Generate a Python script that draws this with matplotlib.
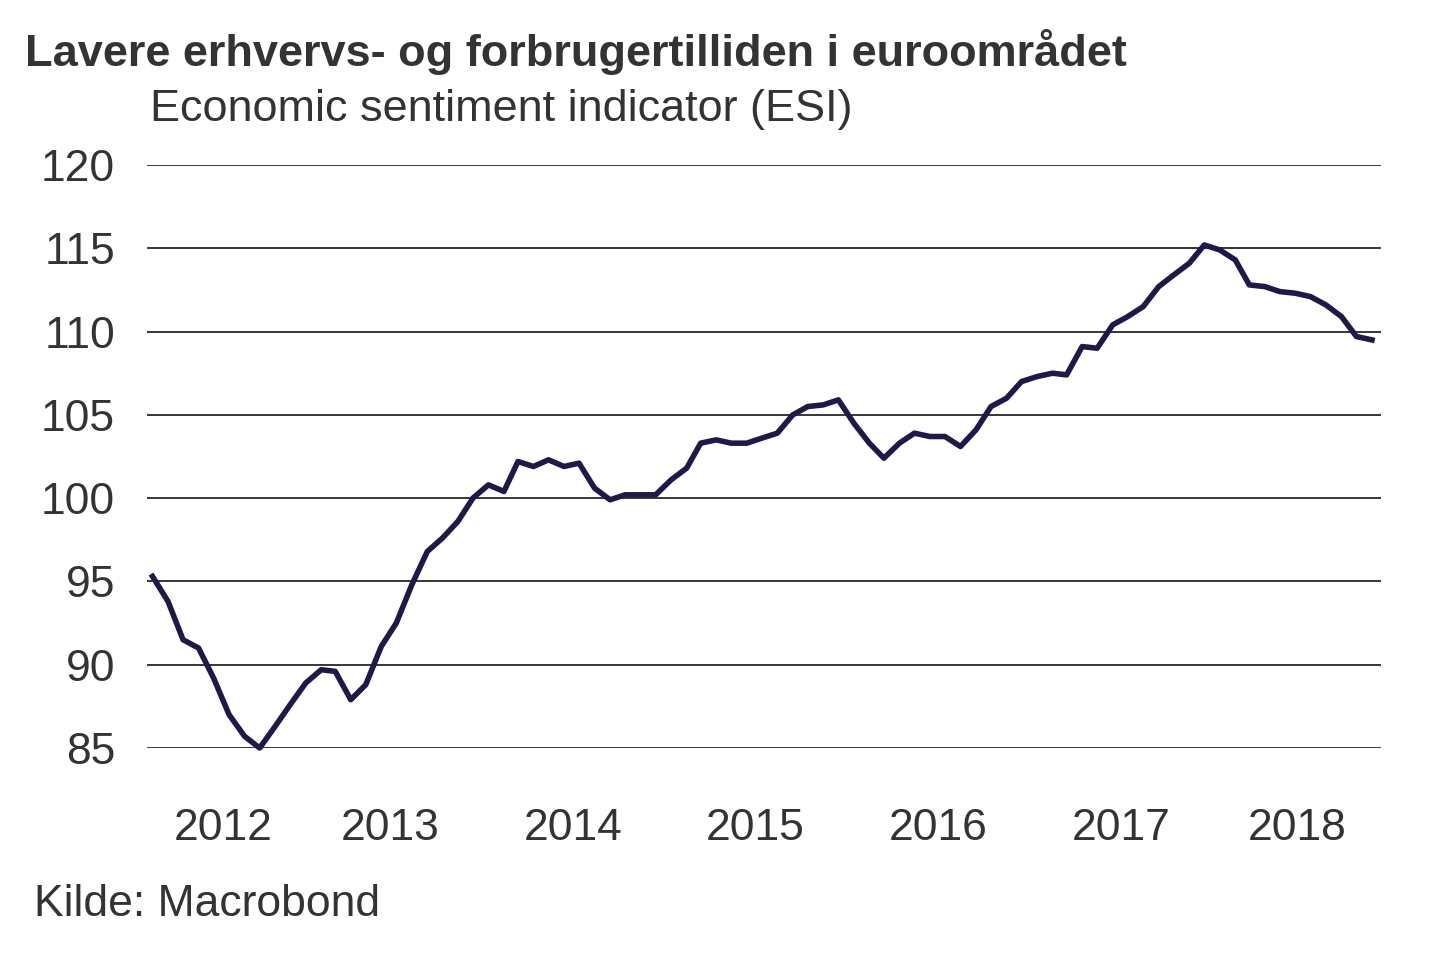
import numpy as np
import pandas as pd
import matplotlib
matplotlib.use("Agg")
import matplotlib.pyplot as plt
import matplotlib.dates as mdates

plt.rcParams['font.family'] = ['Liberation Sans', 'DejaVu Sans']

# ESI, monthly, Mar 2012 - Nov 2018
esi = [95.3, 93.8, 91.5, 91.0, 89.2, 87.0, 85.7, 85.0, 86.3, 87.6,
       88.9, 89.7, 89.6, 87.9, 88.8, 91.1, 92.5, 94.8, 96.8, 97.6,
       98.6, 100.0, 100.8, 100.4, 102.2, 101.9, 102.3, 101.9, 102.1, 100.6,
       99.9, 100.2, 100.2, 100.2, 101.1, 101.8, 103.3, 103.5, 103.3, 103.3,
       103.6, 103.9, 105.0, 105.5, 105.6, 105.9, 104.5, 103.3, 102.4, 103.3,
       103.9, 103.7, 103.7, 103.1, 104.1, 105.5, 106.0, 107.0, 107.3, 107.5,
       107.4, 109.1, 109.0, 110.4, 110.9, 111.5, 112.7, 113.4, 114.1, 115.2,
       114.9, 114.3, 112.8, 112.7, 112.4, 112.3, 112.1, 111.6, 110.9, 109.7,
       109.5]
dates = pd.date_range('2012-03-01', periods=len(esi), freq='MS') + pd.Timedelta(days=14)
years = [2012, 2013, 2014, 2015, 2016, 2017, 2018]
yticks = [85, 90, 95, 100, 105, 110, 115, 120]

xmin = pd.Timestamp('2012-03-04')
xmax = pd.Timestamp('2018-12-03')

fig = plt.figure(figsize=(14.4, 9.6), dpi=100)
ax = fig.add_axes([147/1440, 1-748/960, (1381-147)/1440, (748-165)/960])

ax.plot(dates, esi, color='#1d1a47', lw=4.0, clip_on=False, zorder=3)

ax.set_xlim(xmin, xmax)
ax.set_ylim(85, 120)
ax.set_yticks(yticks)
for v in yticks:
    ax.axhline(v, color='black', lw=1.1, zorder=1)

# year labels centred on the visible part of each year
centers = []
for y in years:
    lo = max(pd.Timestamp(f'{y}-01-01'), xmin)
    hi = min(pd.Timestamp(f'{y+1}-01-01'), xmax)
    centers.append(lo + (hi - lo) / 2)
ax.set_xticks(centers)
ax.set_xticklabels([str(y) for y in years])

ax.tick_params(axis='both', length=0, labelsize=32, colors='#333333')
ax.tick_params(axis='y', pad=23)
ax.tick_params(axis='x', pad=43)
for s in ax.spines.values():
    s.set_visible(False)

fig.text(25/1440, 1-52/960, 'Lavere erhvervs- og forbrugertilliden i euroområdet',
         fontsize=32.5, fontweight='bold', color='#333333', va='center', ha='left')
fig.text(150/1440, 1-109/960, 'Economic sentiment indicator (ESI)',
         fontsize=32.4, color='#333333', va='center', ha='left')
fig.text(34/1440, 1-905/960, 'Kilde: Macrobond',
         fontsize=32, color='#333333', va='center', ha='left')

fig.savefig('out.png', dpi=100, facecolor='white')
